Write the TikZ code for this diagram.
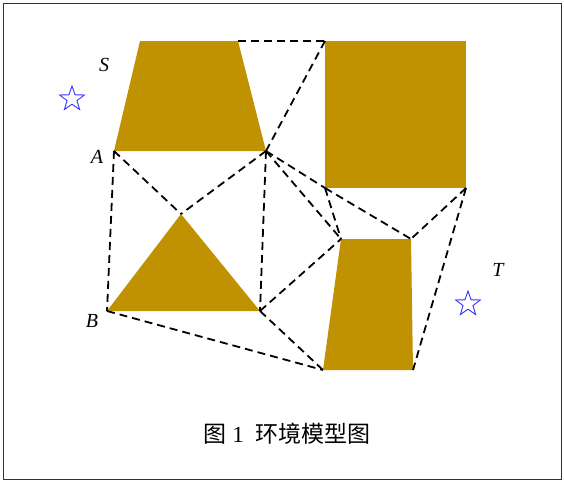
\documentclass[tikz,border=0pt]{standalone}
\usepackage{fontspec}
\setmainfont{Liberation Serif}
\newfontfamily\cjk{Noto Sans CJK SC}
\usetikzlibrary{shapes.geometric}
\definecolor{obst}{RGB}{192,145,0}
\begin{document}
\begin{tikzpicture}[x=1pt,y=-1pt,
  edge/.style={draw=black,line width=1.8pt,dash pattern=on 8pt off 5pt},
  obstacle/.style={fill=obst},
  lbl/.style={font=\fontsize{20}{20}\selectfont\itshape,inner sep=0pt},
  goal/.style={star,star points=5,star point ratio=2.5,draw=blue!80,line width=0.9pt,minimum size=26pt,inner sep=0pt},
  caption/.style={font=\fontsize{23}{23}\selectfont,inner sep=0pt}]
\useasboundingbox (0,0) rectangle (564,482);
\draw[line width=1pt,draw=black!80] (3,3) rectangle (561,479);
% trapezoid
\coordinate (tTL) at (140,41);
\coordinate (tTR) at (238,41);
\coordinate (tBR) at (266,151);
\coordinate (tBL) at (114,151);
% square
\coordinate (sTL) at (325,41);
\coordinate (sTR) at (466,41);
\coordinate (sBR) at (466,188);
\coordinate (sBL) at (325,188);
% triangle
\coordinate (gA) at (181,214);
\coordinate (gR) at (260,311);
\coordinate (gL) at (107,311);
% lower quad
\coordinate (qTL) at (341,239);
\coordinate (qTR) at (411,239);
\coordinate (qBR) at (413,370);
\coordinate (qBL) at (323,370);
\fill[obstacle] (tTL) -- (tTR) -- (tBR) -- (tBL) -- cycle;
\fill[obstacle] (sTL) -- (sTR) -- (sBR) -- (sBL) -- cycle;
\fill[obstacle] (gA) -- (gR) -- (gL) -- cycle;
\fill[obstacle] (qTL) -- (qTR) -- (qBR) -- (qBL) -- cycle;
% edges
\draw[edge] (tTR) -- (sTL);
\draw[edge] (sTL) -- (tBR);
\draw[edge] (tBL) -- (gL);
\draw[edge] (tBL) -- (gA);
\draw[edge] (tBR) -- (gA);
\draw[edge] (tBR) -- (gR);
\draw[edge] (tBR) -- (qTL);
\draw[edge] (tBR) -- (sBL);
\draw[edge] (sBL) -- (qTL);
\draw[edge] (sBL) -- (qTR);
\draw[edge] (sBR) -- (qTR);
\draw[edge] (sBR) -- (qBR);
\draw[edge] (gR) -- (qTL);
\draw[edge] (gR) -- (qBL);
\draw[edge] (gL) -- (qBL);
% labels
\node[lbl] (S) at (104,65) {S};
\node[lbl] (A) at (97,157) {A};
\node[lbl] (B) at (92,321) {B};
\node[lbl] (T) at (498,270) {T};
\node[goal] (start) at (72,99) {};
\node[goal] (target) at (468,304) {};
\node[caption] (cap) at (287,434) {{\cjk 图}\ 1\ \ {\cjk 环境模型图}};
\end{tikzpicture}
\end{document}
